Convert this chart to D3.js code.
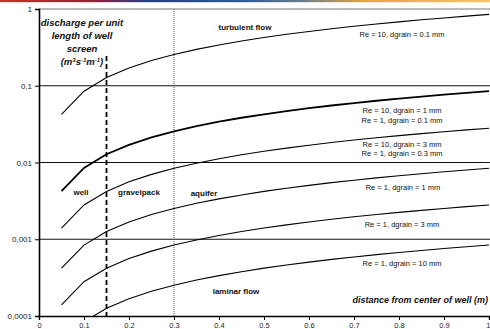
<!DOCTYPE html>
<html><head><meta charset="utf-8">
<script src="https://cdn.jsdelivr.net/npm/d3@7"></script>
<style>body{margin:0;background:#fff}svg{display:block}text{font-family:"Liberation Sans",Arial,sans-serif}</style>
</head><body><div id="c"></div>
<script>
const distance = [0.05,0.1,0.15,0.2,0.25,0.3,0.35,0.4,0.45,0.5,0.55,0.6,0.65,0.7,0.75,0.8,0.85,0.9,0.95,1.0];
const curveRe10d01 = [0.0425,0.085,0.128,0.17,0.213,0.255,0.298,0.34,0.383,0.425,0.468,0.51,0.553,0.595,0.638,0.68,0.723,0.765,0.808,0.85];
const curveRe10d1 = [0.00425,0.0085,0.0128,0.017,0.0213,0.0255,0.0298,0.034,0.0383,0.0425,0.0468,0.051,0.0553,0.0595,0.0638,0.068,0.0723,0.0765,0.0808,0.085];
const curveRe10d3 = [0.0014,0.0028,0.0042,0.0056,0.007,0.0084,0.0098,0.0112,0.0126,0.014,0.0154,0.0168,0.0182,0.0196,0.021,0.0224,0.0238,0.0252,0.0266,0.028];
const curveRe1d1 = [0.00042,0.00084,0.00126,0.00168,0.0021,0.00252,0.00294,0.00336,0.00378,0.0042,0.00462,0.00504,0.00546,0.00588,0.0063,0.00672,0.00714,0.00756,0.00798,0.0084];
const curveRe1d3 = [0.00014,0.00028,0.00042,0.00056,0.0007,0.00084,0.00098,0.00112,0.00126,0.0014,0.00154,0.00168,0.00182,0.00196,0.0021,0.00224,0.00238,0.00252,0.00266,0.0028];
const curveRe1d10 = [0.000042,0.000084,0.000126,0.000168,0.00021,0.000252,0.000294,0.000336,0.000378,0.00042,0.000462,0.000504,0.000546,0.000588,0.00063,0.000672,0.000714,0.000756,0.000798,0.00084];
const xTicks = [0,0.1,0.2,0.3,0.4,0.5,0.6,0.7,0.8,0.9,1];
const yTicks = [1,0.1,0.01,0.001,0.0001];
const yTickLabels = ["1","0,1","0,01","0,001","0,0001"];
const wellRadius = 0.15, gravelRadius = 0.3;

const W=490,H=329;
const svg=d3.select("#c").append("svg").attr("width",W).attr("height",H);
const defs=svg.append("defs");
const g=defs.append("linearGradient").attr("id","strip");
[["0","#c8322c"],["0.18","#9a2038"],["0.3","#25407f"],["0.5","#2f5c95"],["0.62","#6a7f8a"],["0.75","#e7a640"],["1","#f4c663"]].forEach(s=>g.append("stop").attr("offset",s[0]).attr("stop-color",s[1]));
svg.append("rect").attr("x",0).attr("y",0).attr("width",W).attr("height",2.2).attr("fill","url(#strip)");

const x=d3.scaleLinear().domain([0,1]).range([39,489]);
const y=d3.scaleLog().domain([0.0001,1]).range([316,9]);
defs.append("clipPath").attr("id","pc").append("rect").attr("x",39).attr("y",9).attr("width",455).attr("height",307);

svg.append("line").attr("x1",39).attr("x2",W).attr("y1",y(1)).attr("y2",y(1)).attr("stroke","#777").attr("stroke-width",1.2);
svg.selectAll(".grid").data([0.1,0.01,0.001]).join("line").attr("x1",39).attr("x2",W)
  .attr("y1",d=>y(d)).attr("y2",d=>y(d)).attr("stroke","#111").attr("stroke-width",1.1);

svg.append("line").attr("x1",x(gravelRadius)).attr("x2",x(gravelRadius)).attr("y1",y(1)).attr("y2",y(0.0001))
  .attr("stroke","#555").attr("stroke-width",1).attr("stroke-dasharray","1,1");
svg.append("line").attr("x1",x(wellRadius)).attr("x2",x(wellRadius)).attr("y1",56).attr("y2",y(0.0001))
  .attr("stroke","#000").attr("stroke-width",1.8).attr("stroke-dasharray","5,3");

const series=[curveRe10d01,curveRe10d1,curveRe10d3,curveRe1d1,curveRe1d3,curveRe1d10];
const line=d3.line().x((d,i)=>x(distance[i])).y(d=>y(d));
svg.append("g").attr("clip-path","url(#pc)").selectAll("path").data(series).join("path")
  .attr("d",line).attr("fill","none").attr("stroke","#000").attr("stroke-width",(d,i)=>i===1?1.8:1.1);

const yAx=svg.append("g").attr("transform","translate(39,0)").call(d3.axisLeft(y).tickValues(yTicks).tickSize(4).tickFormat((d,i)=>yTickLabels[i]));
yAx.select(".domain").attr("stroke","#000").attr("stroke-width",1.6);
yAx.selectAll("text").attr("font-size",8).attr("fill","#222").attr("font-family","Liberation Sans, Arial, sans-serif");
const xAx=svg.append("g").attr("transform","translate(0,316)").call(d3.axisBottom(x).tickValues(xTicks).tickSize(4).tickFormat(d=>d===0?"0":d===1?"1":d3.format(".1f")(d)));
xAx.select(".domain").attr("stroke","#000").attr("stroke-width",1.4);
xAx.selectAll("text").attr("font-size",7.5).attr("fill","#222").attr("y",12).attr("dy",0).attr("font-family","Liberation Sans, Arial, sans-serif")
  .attr("text-anchor",d=>d===1?"end":"middle").attr("dx",d=>d===1?1:0);

const T=(tx,ty,s,opt)=>{const t=svg.append("text").attr("x",tx).attr("y",ty).text(s).attr("font-size",opt.fs||7.5)
  .attr("font-weight",opt.b?"bold":"normal").attr("font-style",opt.i?"italic":"normal").attr("text-anchor",opt.a||"middle").attr("fill","#111");return t;};
T(82,26,"discharge per unit",{fs:9.5,b:1,i:1});
T(82,39,"length of well",{fs:9.5,b:1,i:1});
T(82,52,"screen",{fs:9.5,b:1,i:1});
const u=svg.append("text").attr("x",82).attr("y",65).attr("text-anchor","middle").attr("font-size",9.5).attr("font-weight","bold").attr("font-style","italic").attr("fill","#111");
u.append("tspan").text("(m");
u.append("tspan").text("3").attr("font-size",6).attr("dy",-3);
u.append("tspan").text("s").attr("dy",3);
u.append("tspan").text("-1").attr("font-size",6).attr("dy",-3);
u.append("tspan").text("m").attr("dy",3);
u.append("tspan").text("-1").attr("font-size",6).attr("dy",-3);
u.append("tspan").text(")").attr("dy",3);

T(245,30,"turbulent flow",{fs:8,b:1});
T(402,37,"Re = 10, dgrain = 0.1 mm",{});
T(402,113,"Re = 10, dgrain = 1 mm",{});
T(402,123,"Re = 1, dgrain = 0.1 mm",{});
T(402,147,"Re = 10, dgrain = 3 mm",{});
T(402,156,"Re = 1, dgrain = 0.3 mm",{});
T(403,190,"Re = 1, dgrain = 1 mm",{});
T(402,227,"Re = 1, dgrain = 3 mm",{});
T(402,266,"Re = 1, dgrain = 10 mm",{});
T(81,195,"well",{fs:8,b:1});
T(139,195,"gravelpack",{fs:8,b:1});
T(204,196,"aquifer",{fs:8,b:1});
T(236,294,"laminar flow",{fs:8,b:1});
T(488,303,"distance from center of well (m)",{fs:9,b:1,i:1,a:"end"});
</script></body></html>
